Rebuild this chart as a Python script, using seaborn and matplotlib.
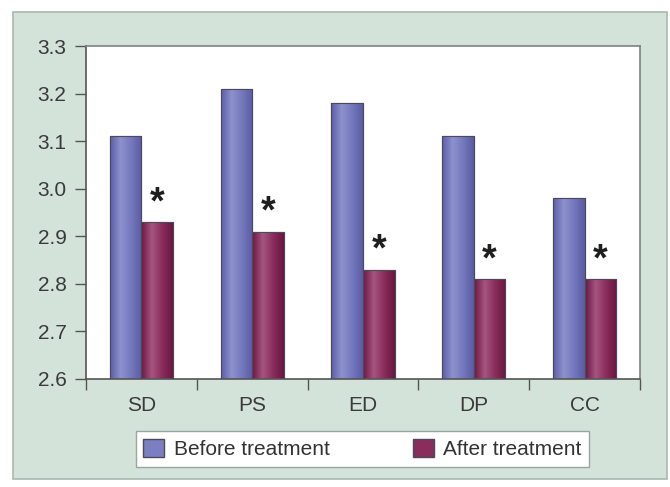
import numpy as np
import pandas as pd
import matplotlib
matplotlib.use("Agg")
import matplotlib.pyplot as plt
from matplotlib.patches import Rectangle, Patch
from matplotlib.colors import LinearSegmentedColormap
import seaborn as sns

categories = ["SD", "PS", "ED", "DP", "CC"]
before = [3.11, 3.21, 3.18, 3.11, 2.98]
after = [2.93, 2.91, 2.83, 2.81, 2.81]
groups = ["Before treatment", "After treatment"]

df = pd.DataFrame({
    "cat": categories * 2,
    "value": before + after,
    "group": [groups[0]] * len(categories) + [groups[1]] * len(categories),
})

sns.set_style("white")
plt.rcParams["font.family"] = ["Liberation Sans", "DejaVu Sans"]

blue = "#7b7fc2"
maroon = "#8a2d5c"
blue_cm = LinearSegmentedColormap.from_list("b", ["#5c5ea8", "#8d92cd", "#7478bc", "#5a5ca4"])
maroon_cm = LinearSegmentedColormap.from_list("m", ["#6c1742", "#a55580", "#8a2d5c", "#6a1640"])

fig = plt.figure(figsize=(6.7, 4.87), dpi=100)
fig.patch.set_facecolor("white")
# light green panel behind the chart
fig.patches.append(Rectangle((13 / 670, 1 - 479 / 487), 654 / 670, 467 / 487,
                             transform=fig.transFigure, facecolor="#d3e3da",
                             edgecolor="#a9b8b0", linewidth=1.2, zorder=-5))

ax = fig.add_axes([86 / 670, 1 - 379 / 487, 554 / 670, 333 / 487])
ax.set_zorder(1)
ax.set_facecolor("white")
sns.barplot(data=df, x="cat", y="value", hue="group", palette=[blue, maroon],
            width=0.57, gap=0, edgecolor="#4a4a5a", linewidth=0.8, ax=ax,
            legend=False, zorder=2)

ax.set_ylim(2.6, 3.3)
ax.set_xlim(-0.5, len(categories) - 0.5)

# gradient fill clipped to each bar
grad = np.linspace(0, 1, 64).reshape(1, -1)
bars = list(ax.patches[:2 * len(categories)])
for i, p in enumerate(bars):
    cm = blue_cm if i < len(categories) else maroon_cm
    x0, w = p.get_x(), p.get_width()
    y0, h = p.get_y(), p.get_height()
    im = ax.imshow(grad, cmap=cm, aspect="auto", extent=(x0, x0 + w, 2.6, y0 + h),
                   zorder=2.5, interpolation="bilinear")
    im.set_clip_path(p)
    edge = Rectangle((x0, y0), w, h, fill=False, edgecolor="#4a4a5a", linewidth=0.8, zorder=3)
    ax.add_patch(edge)

ax.set_ylim(2.6, 3.3)
ax.set_xlim(-0.5, len(categories) - 0.5)

# asterisks above the after-treatment bars
for p in bars[len(categories):]:
    ax.text(p.get_x() + p.get_width() / 2, p.get_y() + p.get_height() + 0.04, "*",
            ha="center", va="center", fontsize=27, fontweight="bold", color="#1e1e1e", zorder=4)

ax.set_yticks(np.arange(2.6, 3.31, 0.1))
ax.set_yticklabels([f"{v:.1f}" for v in np.arange(2.6, 3.31, 0.1)], fontsize=15, color="#3a3a3a")
ax.set_xticks(range(len(categories)))
ax.set_xticklabels(categories, fontsize=15, color="#3a3a3a")
ax.set_xticks(np.arange(-0.5, len(categories), 1.0), minor=True)
ax.tick_params(axis="x", which="major", length=0, pad=12)
ax.tick_params(axis="x", which="minor", length=8, width=1, color="#555555", direction="out", bottom=True)
ax.tick_params(axis="y", length=8, width=1, color="#555555", direction="out", pad=6, left=True)
ax.set_xlabel("")
ax.set_ylabel("")

for side in ["left", "bottom"]:
    ax.spines[side].set_color("#555555")
    ax.spines[side].set_linewidth(1.2)
for side in ["top", "right"]:
    ax.spines[side].set_visible(True)
    ax.spines[side].set_color("#7d8480")
    ax.spines[side].set_linewidth(1.2)

handles = [Patch(facecolor=blue, edgecolor="#4a4a5a"), Patch(facecolor=maroon, edgecolor="#4a4a5a")]
leg = fig.legend(handles, groups, loc="center", ncol=2, fontsize=15,
                 bbox_to_anchor=((132 + 593) / 2 / 670, 1 - 449 / 487),
                 frameon=True, fancybox=False, edgecolor="#9aa59f", framealpha=1,
                 columnspacing=4.0, handlelength=1.0, handleheight=1.0, handletextpad=0.45,
                 borderpad=0.35)
leg.get_frame().set_linewidth(1.0)
for t in leg.get_texts():
    t.set_color("#333333")

fig.savefig("out.png", dpi=100)
